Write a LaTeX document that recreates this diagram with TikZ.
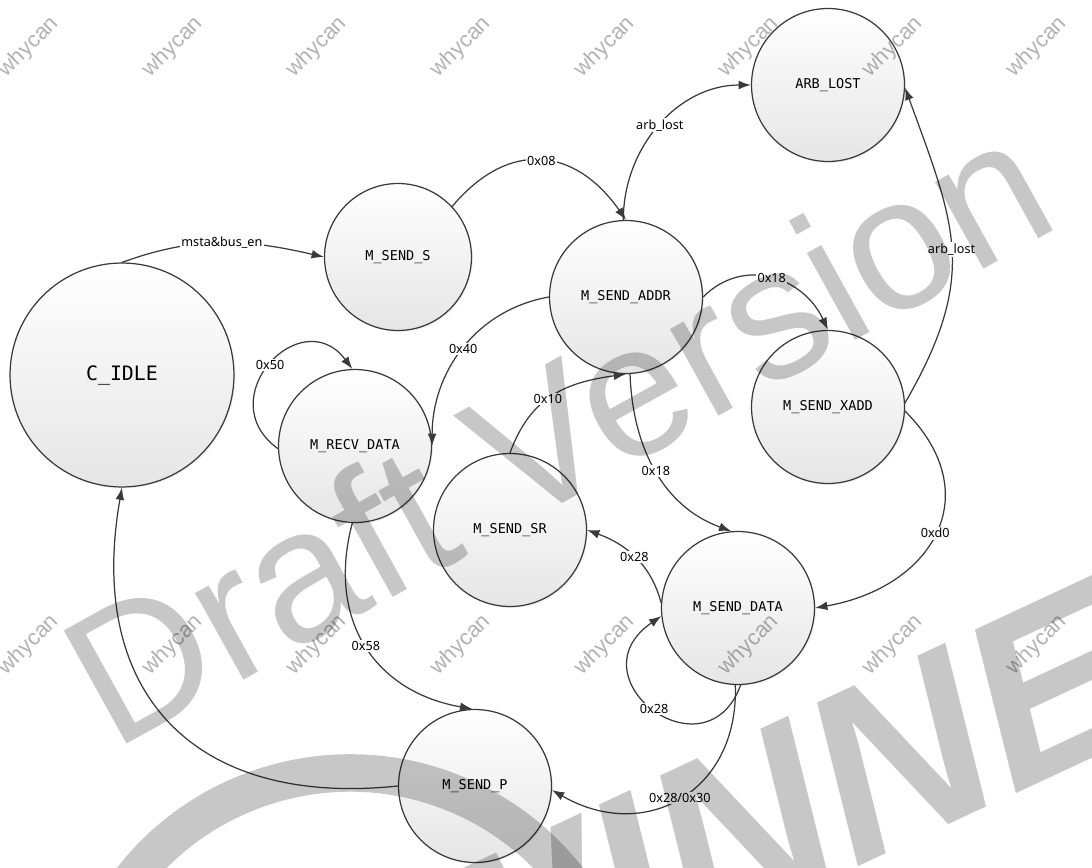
\documentclass[tikz,border=0pt]{standalone}
\usepackage{fontspec}
\usetikzlibrary{arrows.meta,shadows}
\newfontfamily\statefont{DejaVu Sans Mono}
\newfontfamily\lblfont{Noto Sans}
\newfontfamily\wmfont{Liberation Sans}
\definecolor{edgecol}{HTML}{3A3A3A}
\begin{document}
\begin{tikzpicture}[x=0.02cm,y=0.02cm,
  state/.style={circle, draw=edgecol, line width=0.7pt, top color=white, bottom color=black!10,
    minimum size=3.06cm, inner sep=0pt,
    font=\statefont\fontsize{7.7}{9}\selectfont,
    drop shadow={shadow xshift=0.8pt, shadow yshift=-0.8pt, opacity=0.12}},
  tr/.style={draw=edgecol, line width=0.7pt, -{Latex[length=7pt,width=5pt]}},
  lbl/.style={fill=white, inner sep=0.8pt, text=black, font=\lblfont\fontsize{7.2}{8}\selectfont},
  wmsmall/.style={rotate=45, text=black, opacity=0.3, font=\wmfont\fontsize{12.5}{13}\selectfont},
  wmbig/.style={anchor=base west, text=black, opacity=0.22}
]
\useasboundingbox (0,0) rectangle (1092,867);
\clip (0,0) rectangle (1092,867);
\fill[white] (0,0) rectangle (1092,867);

% states
\node[state, minimum size=4.48cm, font=\statefont\fontsize{11.3}{13}\selectfont] (idle) at (122,492) {C\_IDLE};
\node[state, minimum size=2.94cm] (sends) at (398,610) {M\_SEND\_S};
\node[state] (recv) at (355,421) {M\_RECV\_DATA};
\node[state] (addr) at (626,570) {M\_SEND\_ADDR};
\node[state] (arb) at (828,782) {ARB\_LOST};
\node[state] (xadd) at (828,460) {M\_SEND\_XADD};
\node[state] (sr) at (510,337) {M\_SEND\_SR};
\node[state] (data) at (738,259) {M\_SEND\_DATA};
\node[state] (sendp) at (475,81) {M\_SEND\_P};

% transitions
\draw[tr] (idle.90) to[out=20,in=167] node[lbl]{msta\&bus\_en} (sends.180);
\draw[tr] (sends.43) to[out=50,in=125,looseness=1.3] node[lbl]{0x08} (addr.90);
\draw[tr] (addr.92) to[out=90,in=180] node[lbl]{arb\_lost} (arb.180);
\draw[tr] (addr.0) to[out=45,in=115,looseness=1.15] node[lbl]{0x18} (xadd.90);
\draw[tr] (addr.180) to[out=190,in=90] node[lbl]{0x40} (recv.0);
\draw[tr] (sr.90) to[out=70,in=188,looseness=1.1] node[lbl,pos=0.45]{0x10} (addr.270);
\draw[tr] (addr.273) to[out=-88,in=160] node[lbl]{0x18} (data.95);
\draw[tr] (data.176) to[out=105,in=-20] node[lbl]{0x28} (sr.0);
\draw[tr] (data.272) .. controls +(-35,-95) and +(-90,-62) .. node[lbl]{0x28} (data.186);
\draw[tr] (data.268) to[out=-88,in=-30,looseness=1.3] node[lbl]{0x28/0x30} (sendp.-3);
\draw[tr] (recv.268) to[out=-105,in=170,looseness=1.15] node[lbl]{0x58} (sendp.92);
\draw[tr] (sendp.180) to[out=186,in=-100,looseness=1.3] (idle.270);
\draw[tr] (xadd.3) to[out=60,in=-70,looseness=1.2] node[lbl]{arb\_lost} (arb.-2);
\draw[tr] (xadd.-3) to[out=-45,in=10,looseness=1.4] node[lbl]{0xd0} (data.0);
\draw[tr] (recv.182) .. controls +(-69,50) and +(-51,68) .. node[lbl]{0x50} (recv.92);

% watermarks
\foreach \k in {0,...,7}{
  \node[wmsmall] (wa\k) at ({29+144*\k},820) {whycan};
  \node[wmsmall] (wb\k) at ({29+144*\k},222) {whycan};
}
\node[wmbig, rotate=29, font=\wmfont\fontsize{107}{107}\selectfont] (draft) at (108,112) {Draft Version};
\node[wmbig, rotate=25, font=\wmfont\bfseries\itshape\fontsize{137}{137}\selectfont] (aw) at (13,-394) {ALLWINNER};
\draw[black, opacity=0.22, line width=0.75cm] (350,-183) ++(150:277) arc[start angle=150, end angle=30, radius=277];
\end{tikzpicture}
\end{document}
